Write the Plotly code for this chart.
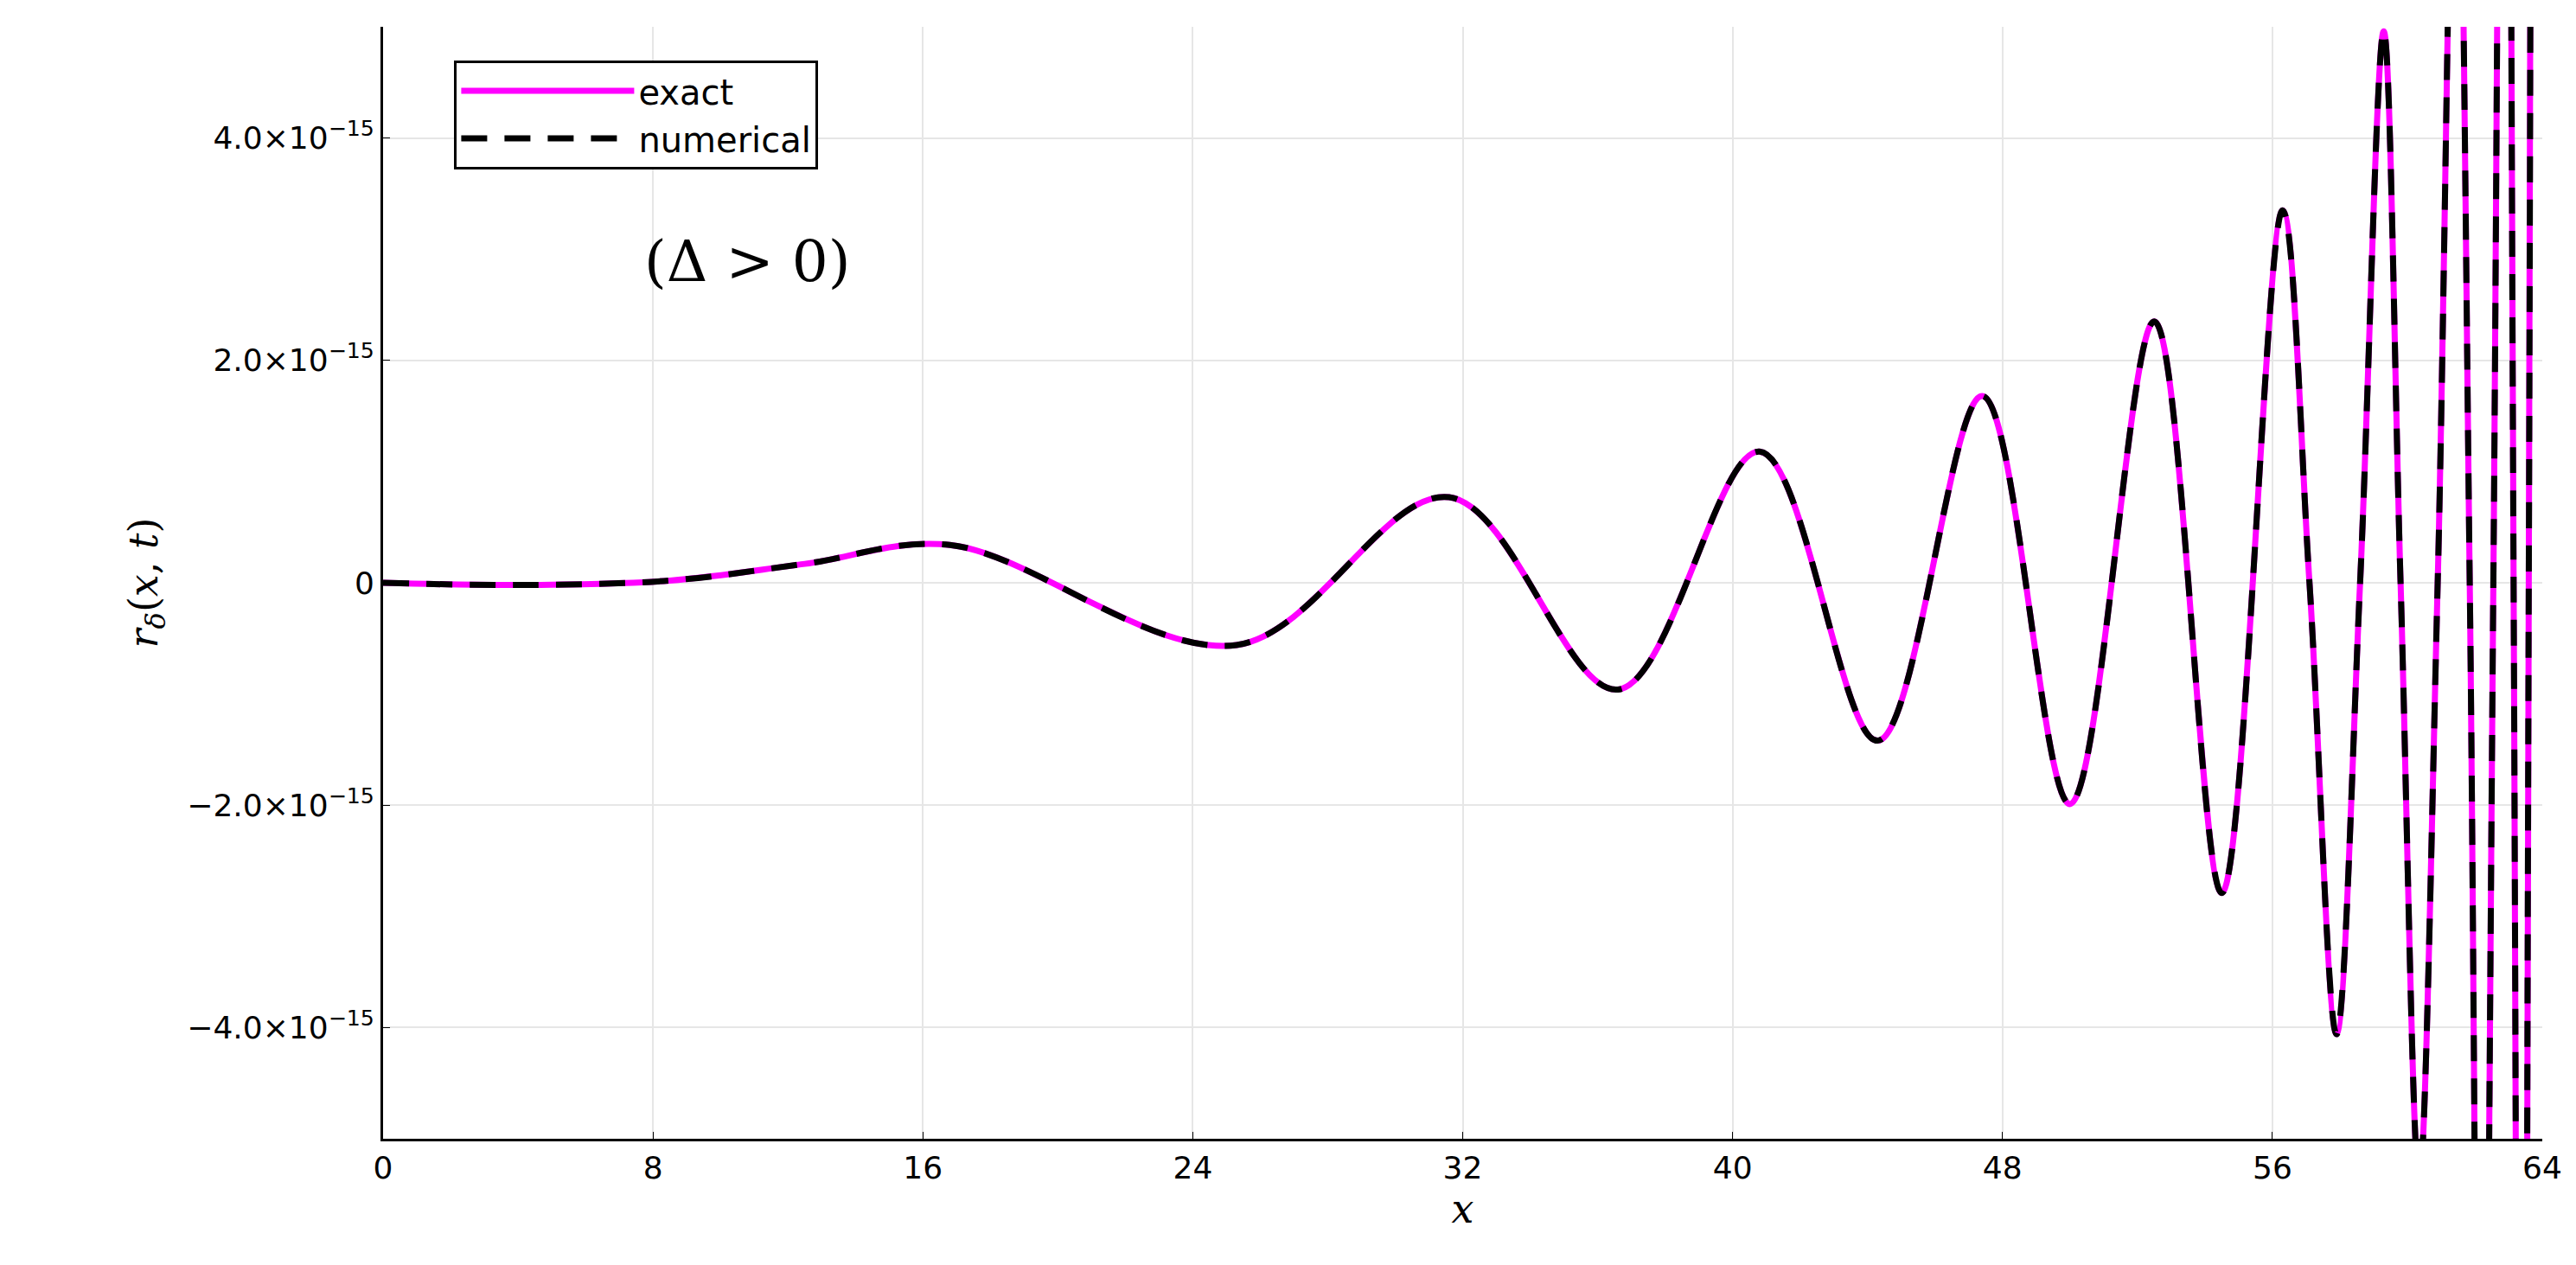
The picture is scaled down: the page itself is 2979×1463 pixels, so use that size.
import plotly.graph_objects as go

x_vals = [0, 4.0, 8.5, 12.5, 16.8, 25.3, 31.6, 36.6, 40.8, 44.3,
          47.4, 50.0, 52.5, 54.5, 56.3, 57.1, 57.9, 58.6, 59.3, 59.8, 60.35,
          60.9, 61.45, 61.85, 62.2, 62.55, 62.9, 63.15, 63.4, 63.6, 63.85, 64.0]
y_vals = [0, -0.02, 0.02, 0.17, 0.34, -0.56, 0.77, -0.96, 1.18, -1.42,
          1.68, -1.99, 2.35, -2.79, 3.35, 0.0, -4.06, 0.0, 4.96, 0.0, -5.4,
          0.0, 8.0, 0.0, -11.0, 0.0, 14.0, 0.0, -18.0, 0.0, 22.0, 18.0]
y_scaled = [v * 1e-15 for v in y_vals]

x_ticks = [0, 8, 16, 24, 32, 40, 48, 56, 64]
y_ticks = [-4e-15, -2e-15, 0, 2e-15, 4e-15]
y_ticktext = ["−4.0×10<sup>−15</sup>", "−2.0×10<sup>−15</sup>", "0",
              "2.0×10<sup>−15</sup>", "4.0×10<sup>−15</sup>"]

fig = go.Figure()
fig.add_trace(go.Scatter(x=x_vals, y=y_scaled, mode="lines", name="exact",
                         line=dict(color="#ff00ff", width=7, shape="spline", smoothing=1.0)))
fig.add_trace(go.Scatter(x=x_vals, y=y_scaled, mode="lines", name="numerical",
                         line=dict(color="black", width=7, dash="30px,20px", shape="spline", smoothing=1.0)))

axis_common = dict(showline=True, linecolor="black", linewidth=3, mirror=False,
                   showgrid=True, gridcolor="#e6e6e6", gridwidth=2, zeroline=False,
                   ticks="inside", ticklen=8, tickcolor="black",
                   tickfont=dict(family="DejaVu Sans", size=36, color="black"))
fig.update_xaxes(range=[0, 64], tickvals=x_ticks, **axis_common,
                 title=dict(text="<i>x</i>", font=dict(family="DejaVu Serif", size=46, color="black"), standoff=10))
fig.update_yaxes(range=[-5e-15, 5e-15], tickvals=y_ticks, ticktext=y_ticktext, **axis_common,
                 title=dict(text="<i>r</i><sub><i>δ</i></sub>(<i>x</i>, <i>t</i>)",
                            font=dict(family="DejaVu Serif", size=46, color="black"), standoff=20))

fig.add_annotation(x=0.12, y=0.82, xref="paper", yref="paper", showarrow=False,
                   text="(Δ > 0)", font=dict(family="DejaVu Serif", size=66, color="black"))

fig.update_layout(width=2979, height=1463, plot_bgcolor="white", paper_bgcolor="white",
                  margin=dict(l=435, r=47, t=23, b=154),
                  legend=dict(x=0.033, y=0.97, xanchor="left", yanchor="top",
                              bordercolor="black", borderwidth=3, bgcolor="white",
                              font=dict(family="DejaVu Sans", size=40, color="black"),
                              itemwidth=200, tracegroupgap=0))
fig.write_html("out.html")
